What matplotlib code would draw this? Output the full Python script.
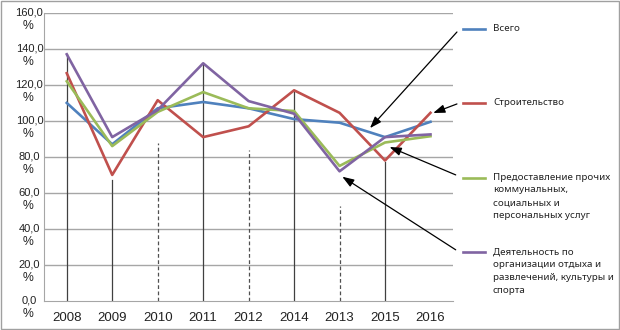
import matplotlib
matplotlib.use('Agg')
import matplotlib.pyplot as plt
from matplotlib.lines import Line2D
from matplotlib.patches import Rectangle

# Categories keep the original order of the source table (2014 before 2013)
years = ['2008', '2009', '2010', '2011', '2012', '2014', '2013', '2015', '2016']
vsego = [110, 87, 107, 110.5, 107, 101, 99, 91, 99.5]
stroitelstvo = [126.5, 70, 111.5, 91, 97, 117, 104.5, 78, 104.5]
predostavlenie = [122, 86, 105, 116, 107, 105.5, 75, 88, 91.5]
deyatelnost = [137, 91, 106, 132, 111, 104, 72, 91, 92.5]

series_names = ['Всего', 'Строительство',
                'Предоставление прочих\nкоммунальных,\nсоциальных и\nперсональных услуг',
                'Деятельность по\nорганизации отдыха и\nразвлечений, культуры и\nспорта']
colors = ['#4F81BD', '#C0504D', '#9BBB59', '#8064A2']

# vertical guide lines: (category index, top value)
solid_guides = [(0, 137), (1, 67), (3, 132), (5, 116), (7, 77)]
dashed_guides = [(2, 88), (4, 84), (6, 53)]

yticks = [0, 20, 40, 60, 80, 100, 120, 140, 160]

fig = plt.figure(figsize=(6.2, 3.3), dpi=100)
ax = fig.add_axes([0.071, 0.088, 0.66, 0.873])

x = list(range(len(years)))
ax.set_xlim(-0.5, len(years) - 0.5)
ax.set_ylim(0, 160)

for v in yticks[1:]:
    ax.axhline(v, color='#A6A6A6', lw=1, zorder=1)

for i, top in solid_guides:
    ax.plot([i, i], [0, top], color='#404040', lw=0.9, zorder=2)
for i, top in dashed_guides:
    ax.plot([i, i], [0, top], color='#505050', lw=0.9, ls=(0, (3, 2)), zorder=2)

for vals, c in zip([vsego, stroitelstvo, predostavlenie, deyatelnost], colors):
    ax.plot(x, vals, color=c, lw=1.9, zorder=3)

for side in ['top', 'right']:
    ax.spines[side].set_visible(False)
for side in ['left', 'bottom']:
    ax.spines[side].set_color('#A6A6A6')
ax.tick_params(length=0)
ax.set_xticks(x)
ax.set_xticklabels(years, fontsize=9.5, family='Liberation Sans', color='#222222')
ax.tick_params(axis='x', pad=8)
ax.set_yticks([])

# y labels: number on the gridline, percent sign underneath
for v in yticks:
    label = ('%.1f' % v).replace('.', ',')
    ax.annotate(label, xy=(0, v), xycoords=('axes fraction', 'data'),
                xytext=(-10.5, 0), textcoords='offset points',
                ha='center', va='center', fontsize=8, family='Liberation Sans', color='#222222')
    ax.annotate('%', xy=(0, v), xycoords=('axes fraction', 'data'),
                xytext=(-11.5, -9.5), textcoords='offset points',
                ha='center', va='center', fontsize=8.8, family='Liberation Sans', color='#222222')

# legend on the right with arrows to the lines
legend_y = [0.912, 0.688, 0.462, 0.236]
arrow_tips = [(6.67, 96), (8.06, 104.4), (7.1, 85.5), (6.06, 69)]
arrow_tails = [(0.737, 0.903), (0.737, 0.685), (0.735, 0.47), (0.735, 0.243)]
for name, c, ly, tip, tail in zip(series_names, colors, legend_y, arrow_tips, arrow_tails):
    fig.add_artist(Line2D([0.747, 0.782], [ly, ly], color=c, lw=1.9, transform=fig.transFigure))
    fig.text(0.795, ly + 0.015, name, ha='left', va='top', fontsize=7.0,
             family='Noto Sans', color='#222222', linespacing=1.55)
    ax.annotate('', xy=tip, xycoords='data', xytext=tail, textcoords='figure fraction',
                arrowprops=dict(arrowstyle='-|>,head_length=0.7,head_width=0.25',
                                color='black', lw=0.9, shrinkA=0, shrinkB=0),
                annotation_clip=False)

fig.add_artist(Rectangle((0.002, 0.003), 0.996, 0.994, transform=fig.transFigure,
                         fill=False, edgecolor='#A0A0A0', lw=1))

fig.savefig('out.png', dpi=100)
